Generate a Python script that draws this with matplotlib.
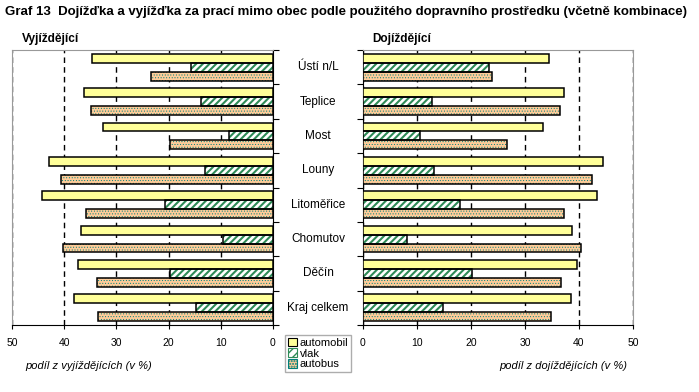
import numpy as np
import matplotlib
matplotlib.use("Agg")
import matplotlib.pyplot as plt
from matplotlib.patches import Patch
from matplotlib.transforms import blended_transform_factory

plt.rcParams['font.family'] = ['Liberation Sans', 'DejaVu Sans']

categories = ['Ústí n/L', 'Teplice', 'Most', 'Louny', 'Litoměřice',
              'Chomutov', 'Děčín', 'Kraj celkem']
series = ['automobil', 'vlak', 'autobus']

# vyjíždějící (levý graf)
out_auto = [34.7, 36.2, 32.5, 42.9, 44.2, 36.8, 37.4, 38.1]
out_vlak = [15.7, 13.8, 8.4, 13.0, 20.6, 9.6, 19.7, 14.7]
out_bus = [23.4, 34.9, 19.8, 40.6, 35.8, 40.2, 33.7, 33.5]

# dojíždějící (pravý graf)
in_auto = [34.4, 37.2, 33.3, 44.4, 43.3, 38.7, 39.6, 38.5]
in_vlak = [23.3, 12.7, 10.5, 13.2, 17.9, 8.2, 20.1, 14.8]
in_bus = [23.8, 36.4, 26.7, 42.4, 37.2, 40.3, 36.6, 34.8]

fills = ['#ffff99', 'white', '#ffcc99']
hatch_col = [None, '#2e8b57', '#007f7a']
hatches = [None, '/////', '......']
hatch_lw = [1, 1.5, 0.4]

fig = plt.figure(figsize=(6.99, 3.92), dpi=100)
ax1 = fig.add_axes([12 / 699, 1 - 325 / 392, 261 / 699, 275 / 392])
ax2 = fig.add_axes([363 / 699, 1 - 325 / 392, 270 / 699, 275 / 392])

y = np.arange(len(categories))
h = 0.26
offsets = [-h, 0, h]

for ax, data in ((ax1, [out_auto, out_vlak, out_bus]), (ax2, [in_auto, in_vlak, in_bus])):
    for i, vals in enumerate(data):
        if hatches[i]:
            with plt.rc_context({'hatch.linewidth': hatch_lw[i]}):
                ax.barh(y + offsets[i], vals, height=h, color=fills[i],
                        edgecolor=hatch_col[i], hatch=hatches[i], linewidth=0, zorder=3)
            ax.barh(y + offsets[i], vals, height=h, fill=False,
                    edgecolor='black', linewidth=1.1, zorder=4)
        else:
            ax.barh(y + offsets[i], vals, height=h, color=fills[i],
                    edgecolor='black', linewidth=1.1, zorder=4)
    ax.set_ylim(len(categories) - 0.5, -0.5)
    ax.set_yticks(np.arange(len(categories) + 1) - 0.5)
    ax.set_yticklabels([])
    ax.set_xticks([0, 10, 20, 30, 40, 50])
    ax.tick_params(axis='x', labelsize=7.5, length=3, pad=6)
    ax.tick_params(axis='y', length=4)
    ax.grid(axis='x', color='black', linestyle=(0, (4, 3)), linewidth=1, zorder=1)
    ax.spines['bottom'].set_color('black')

ax1.set_xlim(50, 0)
ax1.yaxis.tick_right()
ax1.spines['left'].set_color('#999999')
ax1.spines['top'].set_color('#999999')
ax1.spines['right'].set_color('black')

ax2.set_xlim(0, 50)
ax2.spines['right'].set_color('#999999')
ax2.spines['top'].set_color('#999999')
ax2.spines['left'].set_color('black')

ax1.set_xlabel('podíl z vyjíždějících (v %)', fontsize=8, style='italic')
ax1.xaxis.set_label_coords(0.05, -0.13)
ax1.xaxis.label.set_ha('left')
ax2.set_xlabel('podíl z dojíždějících (v %)', fontsize=8, style='italic')
ax2.xaxis.set_label_coords(0.98, -0.13)
ax2.xaxis.label.set_ha('right')

trans = blended_transform_factory(fig.transFigure, ax1.transData)
for yi, name in zip(y, categories):
    ax1.text(318 / 699, yi, name, transform=trans, ha='center', va='center', fontsize=8.5)

fig.text(5 / 699, 1 - 12 / 392, 'Graf 13  Dojížďka a vyjížďka za prací mimo obec podle použitého dopravního prostředku (včetně kombinace)',
         fontsize=9.5, fontweight='bold', va='center', ha='left')
fig.text(22 / 699, 1 - 39 / 392, 'Vyjíždějící', fontsize=8.5, fontweight='bold', va='center')
fig.text(372 / 699, 1 - 39 / 392, 'Dojíždějící', fontsize=8.5, fontweight='bold', va='center')

with plt.rc_context({'hatch.linewidth': 0.4}):
    handles = [Patch(facecolor=fills[0], edgecolor='black', linewidth=0.8),
               Patch(facecolor='white', edgecolor='#2e8b57', hatch='////', linewidth=0.8),
               Patch(facecolor=fills[2], edgecolor='#007f7a', hatch='......', linewidth=0.8)]
leg = fig.legend(handles, series, loc='upper left', bbox_to_anchor=(285 / 699, 1 - 335 / 392),
                 fontsize=8, frameon=True, fancybox=False, handlelength=0.8, handleheight=0.8,
                 handletextpad=0.3, borderpad=0.25, labelspacing=0.05, borderaxespad=0)
leg.get_frame().set_edgecolor('#999999')
leg.get_frame().set_linewidth(1)

fig.savefig('out.png', dpi=100)
